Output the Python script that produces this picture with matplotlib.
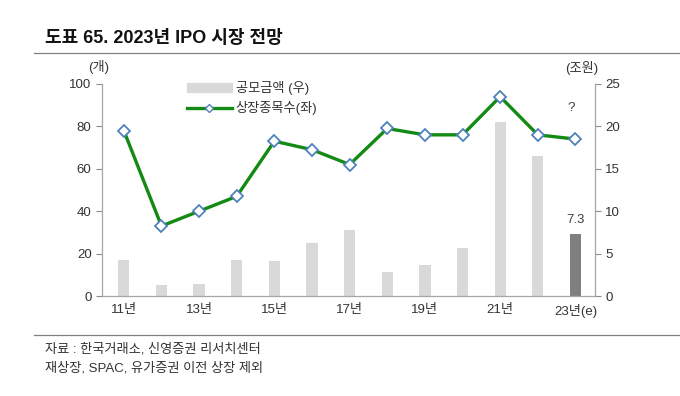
import matplotlib
matplotlib.use('Agg')
import matplotlib.pyplot as plt
from matplotlib.lines import Line2D

plt.rcParams['font.family'] = ['Liberation Sans', 'Noto Sans CJK KR', 'DejaVu Sans']

# data
years = ['11년', '12년', '13년', '14년', '15년', '16년', '17년',
         '18년', '19년', '20년', '21년', '22년', '23년(e)']
tick_labels = ['11년', '', '13년', '', '15년', '', '17년',
               '', '19년', '', '21년', '', '23년(e)']
ipo_amount = [4.3, 1.3, 1.4, 4.3, 4.1, 6.3, 7.8, 2.8, 3.7, 5.7, 20.5, 16.5, 7.3]   # 조원
listing_count = [78, 33, 40, 47, 73, 69, 62, 79, 76, 76, 94, 76, 74]              # 개

fig = plt.figure(figsize=(6.8, 3.96), dpi=100)
ax = fig.add_axes([0.15, 0.2525, 0.725, 0.5355])
ax2 = ax.twinx()

x = list(range(len(years)))
bar_colors = ['#d9d9d9'] * (len(years) - 1) + ['#7f7f7f']

# bars on the right axis, line on the left axis
ax2.bar(x, ipo_amount, width=0.3, color=bar_colors, zorder=1)
ax2.text(x[-1], ipo_amount[-1] + 1.0, '7.3', ha='center', va='bottom',
         fontsize=9.5, color='#404040')

ax.set_zorder(ax2.get_zorder() + 1)
ax.patch.set_visible(False)
ax.plot(x, listing_count, color='#138a13', lw=2.4, marker='D', ms=6.5,
        mfc='white', mec='#4f81bd', mew=1.3, zorder=3)
ax.text(x[-1] - 0.1, listing_count[-1] + 12, '?', ha='center', va='bottom',
        fontsize=9.5, color='#404040')

ax.set_xlim(-0.58, 12.52)
ax.set_ylim(0, 100)
ax2.set_ylim(0, 25)
ax.set_yticks(range(0, 101, 20))
ax2.set_yticks(range(0, 26, 5))
ax.set_xticks(x)
ax.set_xticklabels(tick_labels)

for a in (ax, ax2):
    for s in a.spines.values():
        s.set_visible(False)
    a.tick_params(axis='y', labelsize=9.5, colors='#8c8c8c', labelcolor='#333333',
                  length=4, width=0.8)
ax.tick_params(axis='x', length=0, labelsize=9.5, labelcolor='#333333', pad=6)
ax.spines['left'].set_visible(True)
ax.spines['bottom'].set_visible(True)
ax2.spines['right'].set_visible(True)
for s in (ax.spines['left'], ax.spines['bottom'], ax2.spines['right']):
    s.set_color('#a6a6a6')
    s.set_linewidth(0.9)

ax.text(-0.006, 1.045, '(개)', transform=ax.transAxes, ha='center', va='bottom',
        fontsize=9.5, color='#333333')
ax2.text(0.972, 1.04, '(조원)', transform=ax.transAxes, ha='center', va='bottom',
         fontsize=9.5, color='#333333')

# legend
handles = [plt.Rectangle((0, 0), 1, 1, color='#d9d9d9'),
           Line2D([], [], color='#138a13', lw=2.4, marker='D', ms=4,
                  mfc='white', mec='#4f81bd', mew=1.0)]
leg = ax.legend(handles, ['공모금액 (우)', '상장종목수(좌)'], loc='upper left',
                bbox_to_anchor=(0.148, 1.07), frameon=False, fontsize=9.5,
                handlelength=3.4, handleheight=0.6, labelspacing=0.45,
                handletextpad=0.3)
for t in leg.get_texts():
    t.set_color('#333333')

# title, rules and notes
fig.text(0.066, 0.902, '도표 65. 2023년 IPO 시장 전망', fontsize=13,
         fontweight='bold', va='center', ha='left', color='#111111')
fig.add_artist(Line2D([0.05, 1.0], [0.867, 0.867], color='#808080', lw=0.9))
fig.add_artist(Line2D([0.05, 1.0], [0.155, 0.155], color='#808080', lw=0.9))
fig.text(0.066, 0.119, '자료 : 한국거래소, 신영증권 리서치센터', fontsize=9.5,
         va='center', color='#333333')
fig.text(0.066, 0.071, '재상장, SPAC, 유가증권 이전 상장 제외', fontsize=9.5,
         va='center', color='#333333')

fig.savefig('out.png', dpi=100)
